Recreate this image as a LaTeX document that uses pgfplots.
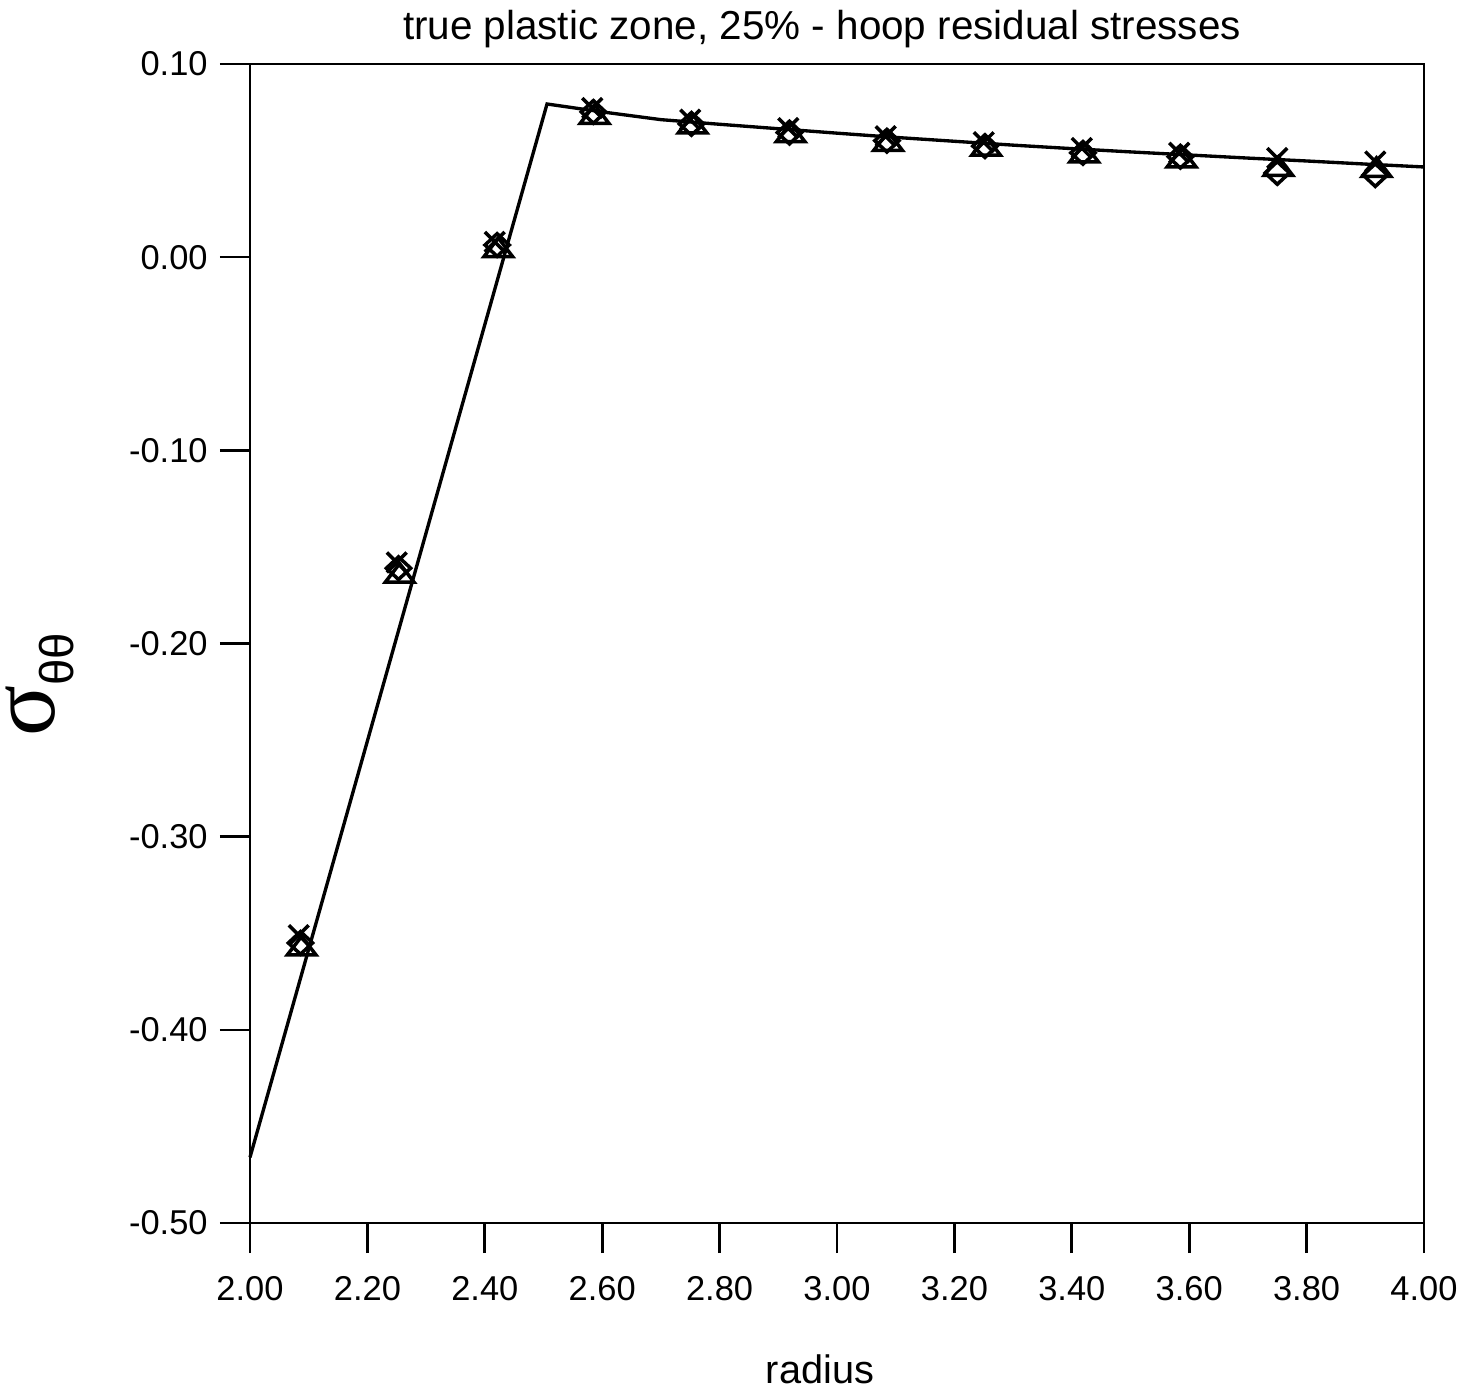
\documentclass[border=0pt]{standalone}
\usepackage{pgfplots}
\pgfplotsset{compat=1.18}
\usepackage{fontspec}
\setmainfont{Liberation Sans}
\newfontfamily\greekfont{Liberation Serif}

% stress profile (solid line)
\pgfplotstableread{
x y
2.000 -0.466
2.506 0.0793
2.600 0.0752
2.700 0.0712
2.800 0.0688
2.900 0.0665
3.000 0.0642
3.100 0.0620
3.200 0.0600
3.300 0.0580
3.400 0.0562
3.500 0.0545
3.600 0.0529
3.700 0.0513
3.800 0.0498
3.900 0.0482
4.000 0.0467
}\profile

% three sets of sampled values
\pgfplotstableread{
x y
2.083 -0.351
2.250 -0.158
2.417 0.0079
2.583 0.0772
2.750 0.0712
2.917 0.0668
3.083 0.0626
3.250 0.0595
3.417 0.0565
3.583 0.0540
3.750 0.0513
3.917 0.0495
}\crosses
\pgfplotstableread{
x y
2.086 -0.355
2.253 -0.161
2.421 0.0063
2.585 0.0752
2.752 0.0690
2.919 0.0645
3.085 0.0603
3.252 0.0575
3.419 0.0540
3.585 0.0520
3.750 0.0436
3.917 0.0425
}\diamonds
\pgfplotstableread{
x y
2.088 -0.358
2.255 -0.165
2.423 0.0035
2.587 0.0725
2.754 0.0675
2.921 0.0630
3.087 0.0585
3.254 0.0560
3.421 0.0525
3.587 0.0500
3.752 0.0455
3.919 0.0450
}\triangles

\begin{document}
\begin{tikzpicture}
\begin{axis}[
  at={(0,0)}, anchor=south west,
  scale only axis,
  width=117.4mm, height=115.9mm,
  xmin=2, xmax=4, ymin=-0.5, ymax=0.1,
  axis line style={line width=0.75pt},
  tick style={line width=0.75pt, black},
  tick align=outside,
  major tick length=3mm,
  xtick pos=bottom, ytick pos=left,
  xtick={2,2.2,2.4,2.6,2.8,3,3.2,3.4,3.6,3.8,4},
  xticklabels={2.00,2.20,2.40,2.60,2.80,3.00,3.20,3.40,3.60,3.80,4.00},
  ytick={-0.5,-0.4,-0.3,-0.2,-0.1,0,0.1},
  yticklabels={-0.50,-0.40,-0.30,-0.20,-0.10,0.00,0.10},
  ticklabel style={font=\fontsize{9.8}{11}\selectfont},
  xticklabel style={yshift=-1.1mm},
  clip=false,
]
\addplot[black, line width=0.95pt] table {\profile};
\addplot[only marks, mark=x, mark size=4pt, mark options={line width=1pt}] table {\crosses};
\addplot[only marks, mark=diamond, mark size=4.6pt, mark options={line width=1pt, yscale=0.7}] table {\diamonds};
\addplot[only marks, mark=triangle, mark size=4.7pt, mark options={line width=1pt, yscale=0.75}] table {\triangles};
\end{axis}
\node[anchor=base] at (57.2mm,118.3mm) {\fontsize{11.5}{13}\selectfont true plastic zone, 25\% - hoop residual stresses};
\node[anchor=base] at (57.0mm,-16.0mm) {\fontsize{11.3}{13}\selectfont radius};
\node[rotate=90, anchor=base, inner sep=0pt] at (-19.5mm,53.8mm) {\greekfont\fontsize{27}{30}\selectfont σ\raisebox{-0.2em}{\fontsize{13.5}{15}\selectfont\rmfamily θθ}};
\pgfresetboundingbox
\path (-25mm,-17.3mm) rectangle (122.9mm,122.3mm);
\end{tikzpicture}
\end{document}
